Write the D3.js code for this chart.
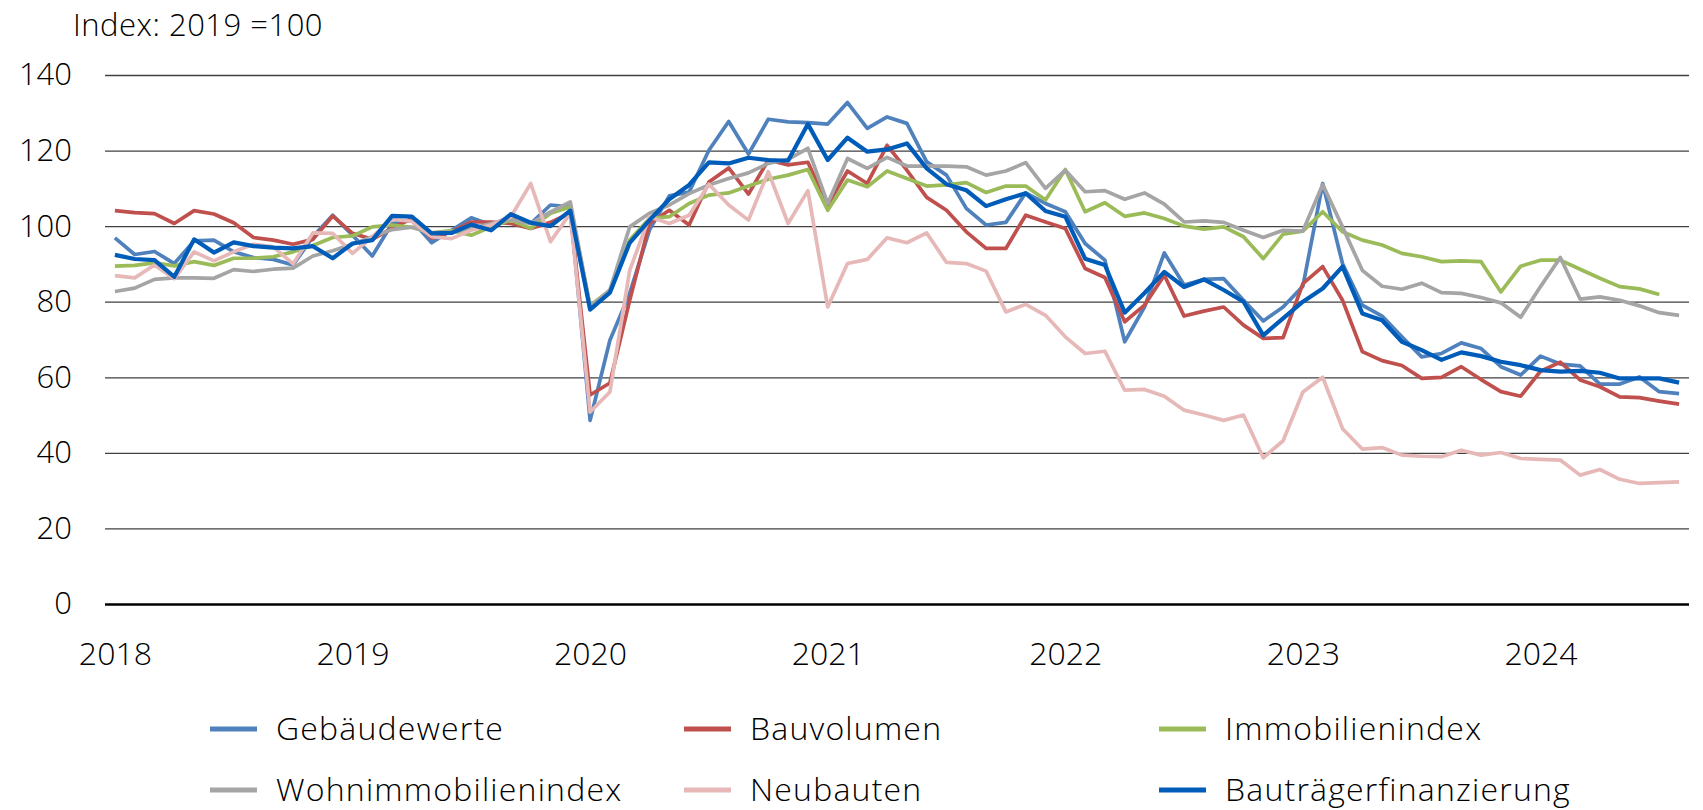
<!DOCTYPE html>
<html lang="de">
<head>
<meta charset="UTF-8">
<title>Index 2019 = 100</title>
<script src="https://cdn.jsdelivr.net/npm/d3@7"></script>
<style>
  body { margin: 0; background: #fff; }
  svg text { font-family: "Open Sans", sans-serif; font-weight: 300; fill: #000; }
</style>
</head>
<body>
<div id="container"></div>
<script>
// monthly values Jan 2018 .. Aug 2024
let years = ["2018", "2019", "2020", "2021", "2022", "2023", "2024"];
let yTicks = [0, 20, 40, 60, 80, 100, 120, 140];

let gebaeudewerte = [96.9, 92.5, 93.3, 90.1, 96.1, 96.3, 93.2, 91.7, 91.2, 89.7, 97.2, 102.9, 97.6, 92.1, 100.7, 101.5, 95.6, 98.9, 102.2, 100.3,
  102.6, 100.7, 105.6, 105.1, 48.6, 69.8, 82.2, 99.0, 108.0, 109.0, 120.1, 127.7, 119.1, 128.3, 127.6, 127.4, 127.0, 132.7, 125.9, 128.9,
  127.2, 117.0, 113.5, 104.7, 100.3, 101.0, 108.8, 106.0, 103.8, 95.4, 91.0, 69.4, 78.6, 92.9, 84.4, 85.9, 86.1, 80.4, 74.9, 78.6,
  84.1, 111.3, 90.1, 79.1, 76.2, 70.7, 65.4, 66.3, 69.1, 67.6, 62.8, 60.6, 65.6, 63.5, 63.0, 58.2, 58.2, 60.1, 56.2, 55.7];

let bauvolumen = [104.1, 103.6, 103.3, 100.7, 104.1, 103.2, 100.9, 97.0, 96.3, 95.2, 96.5, 102.7, 98.1, 96.5, 99.5, 102.0, 96.8, 98.5, 101.1, 101.1,
  100.7, 99.4, 101.0, 103.5, 55.3, 58.5, 80.4, 100.7, 104.2, 100.3, 111.7, 115.4, 108.5, 117.5, 116.2, 116.9, 105.6, 114.6, 111.3, 121.4,
  114.8, 107.6, 104.2, 98.5, 94.1, 94.1, 102.9, 101.1, 99.4, 88.8, 86.4, 74.7, 79.1, 87.0, 76.2, 77.5, 78.6, 73.8, 70.3, 70.5,
  84.8, 89.3, 80.4, 66.8, 64.4, 63.1, 59.7, 60.0, 62.8, 59.4, 56.2, 55.0, 61.6, 64.0, 59.3, 57.5, 54.8, 54.6, 53.7, 52.9];

let immobilienindex = [89.4, 89.6, 90.3, 89.5, 90.6, 89.6, 91.5, 91.5, 91.9, 93.2, 94.9, 97.0, 97.4, 99.8, 100.3, 99.7, 98.2, 98.8, 97.6, 99.8,
  101.6, 99.4, 103.4, 105.1, 79.0, 83.0, 96.3, 102.0, 102.5, 106.0, 108.2, 108.8, 110.6, 112.4, 113.5, 115.0, 104.2, 112.2, 110.4, 114.6,
  112.6, 110.6, 110.9, 111.5, 108.9, 110.6, 110.6, 106.9, 115.0, 103.8, 106.2, 102.6, 103.5, 102.0, 100.0, 99.2, 99.8, 97.2, 91.4, 97.9,
  98.7, 103.8, 98.5, 96.3, 95.0, 92.8, 91.9, 90.6, 90.8, 90.6, 82.6, 89.4, 91.0, 91.0, 88.6, 86.2, 84.0, 83.4, 81.9, null];

let wohnimmobilienindex = [82.7, 83.6, 85.9, 86.3, 86.3, 86.2, 88.5, 88.0, 88.6, 88.9, 92.1, 93.5, 95.2, 97.2, 99.1, 99.7, 98.2, 98.5, 99.4, 100.7,
  101.8, 100.7, 103.8, 106.4, 78.6, 83.1, 99.8, 103.4, 105.6, 108.6, 110.9, 112.6, 114.1, 116.6, 117.7, 120.6, 106.0, 117.9, 115.3, 118.2,
  115.9, 115.9, 115.9, 115.7, 113.5, 114.6, 116.8, 110.0, 114.8, 109.1, 109.4, 107.1, 108.8, 105.8, 101.1, 101.4, 101.0, 98.9, 97.0, 98.9,
  98.7, 111.0, 99.8, 88.3, 84.1, 83.3, 84.9, 82.4, 82.2, 81.1, 79.7, 75.9, 84.0, 91.7, 80.7, 81.3, 80.4, 78.9, 77.1, 76.4];

let neubauten = [86.9, 86.3, 89.7, 86.1, 93.2, 90.8, 93.2, 95.2, 94.5, 90.0, 98.2, 98.1, 92.8, 97.2, 101.8, 101.3, 97.2, 96.7, 98.9, 100.3,
  102.5, 111.3, 95.9, 103.4, 50.8, 56.1, 88.3, 102.5, 100.7, 102.9, 111.1, 105.6, 101.6, 114.4, 100.7, 109.4, 78.6, 90.1, 91.2, 96.9,
  95.6, 98.2, 90.4, 90.1, 88.1, 77.3, 79.3, 76.4, 70.7, 66.3, 66.9, 56.6, 56.8, 55.0, 51.3, 50.0, 48.6, 50.0, 38.7, 43.2,
  56.1, 60.0, 46.4, 41.0, 41.4, 39.4, 39.1, 39.0, 40.7, 39.4, 40.1, 38.5, 38.3, 38.1, 34.1, 35.6, 33.0, 31.9, 32.1, 32.3];

let bautraegerfinanzierung = [92.4, 91.3, 91.0, 86.6, 96.5, 93.0, 95.7, 94.7, 94.3, 94.1, 94.7, 91.5, 95.4, 96.3, 102.7, 102.5, 98.1, 98.2, 100.4, 98.9,
  103.2, 100.9, 100.0, 104.1, 77.9, 82.4, 95.6, 101.6, 107.1, 110.9, 116.9, 116.6, 118.1, 117.5, 117.3, 127.0, 117.5, 123.4, 119.7, 120.3,
  121.9, 115.3, 111.1, 109.5, 105.3, 107.1, 108.7, 104.0, 102.5, 91.4, 89.7, 77.1, 82.3, 87.9, 83.9, 85.9, 83.1, 80.0, 71.1, 75.6,
  80.0, 83.5, 89.3, 76.9, 75.1, 69.4, 67.2, 64.6, 66.6, 65.6, 64.1, 63.2, 61.9, 61.5, 61.7, 61.2, 59.7, 59.7, 59.7, 58.6];

// category keys "YYYY-M" for each month
let months = d3.range(gebaeudewerte.length)
    .map(i => (+years[0] + Math.floor(i / 12)) + "-" + (i % 12 + 1));

let series = [
  { name: "Gebäudewerte", values: gebaeudewerte, color: "#4f81bd", width: 3.7 },
  { name: "Bauvolumen", values: bauvolumen, color: "#c0504d", width: 3.7 },
  { name: "Immobilienindex", values: immobilienindex, color: "#9bbb59", width: 3.7 },
  { name: "Wohnimmobilienindex", values: wohnimmobilienindex, color: "#a5a5a5", width: 3.7 },
  { name: "Neubauten", values: neubauten, color: "#e6b9b8", width: 3.7 },
  { name: "Bauträgerfinanzierung", values: bautraegerfinanzierung, color: "#005cb9", width: 4.2 }
];

let W = 1703, H = 810;
let mLeft = 105, mRight = 1689, mTop = 75, mBottom = 604;

let svg = d3.select('#container')
    .append('svg')
    .attr('width', W)
    .attr('height', H);

let x = d3.scalePoint()
    .domain(months)
    .range([mLeft, mRight])
    .padding(0.5);

let y = d3.scaleLinear()
    .domain([0, 140])
    .range([mBottom, mTop]);

// gridlines + y labels
let yAxis = svg.append("g")
    .attr("transform", "translate(" + mLeft + ",0)")
    .call(d3.axisLeft(y).tickValues(yTicks).tickSize(-(mRight - mLeft)).tickPadding(33));
yAxis.select(".domain").remove();
yAxis.selectAll("line")
    .attr("stroke", d => d === 0 ? "#000" : "#404040")
    .attr("stroke-width", d => d === 0 ? 2.5 : 1.3);
yAxis.selectAll("text").style("font-size", "31px");

// year labels at january
let xAxis = svg.append("g")
    .attr("transform", "translate(0," + mBottom + ")")
    .call(d3.axisBottom(x)
        .tickValues(years.map(yr => yr + "-1"))
        .tickFormat(d => d.split("-")[0])
        .tickSize(0)
        .tickPadding(38));
xAxis.select(".domain").remove();
xAxis.selectAll("text").style("font-size", "32px");

let line = d3.line()
    .defined(d => d != null)
    .x((d, i) => x(months[i]))
    .y(d => y(d));

series.forEach(s => {
  svg.append("path")
      .datum(s.values)
      .attr("d", line)
      .attr("fill", "none")
      .attr("stroke", s.color)
      .attr("stroke-width", s.width)
      .attr("stroke-linejoin", "round");
});

svg.append("text")
    .attr("x", 73)
    .attr("y", 36)
    .style("font-size", "31px")
    .style("letter-spacing", "0.5px")
    .text("Index: 2019 =100");

// legend, 3 columns x 2 rows
let legendX = [210, 684, 1159];
let legendY = [729, 790];
series.forEach((s, i) => {
  let lx = legendX[i % 3], ly = legendY[Math.floor(i / 3)];
  svg.append("line")
      .attr("x1", lx).attr("x2", lx + 47)
      .attr("y1", ly).attr("y2", ly)
      .attr("stroke", s.color)
      .attr("stroke-width", 5);
  svg.append("text")
      .attr("x", lx + 66)
      .attr("y", ly)
      .attr("dy", "0.35em")
      .style("font-size", "32px")
      .style("letter-spacing", "1.2px")
      .text(s.name);
});
</script>
</body>
</html>
